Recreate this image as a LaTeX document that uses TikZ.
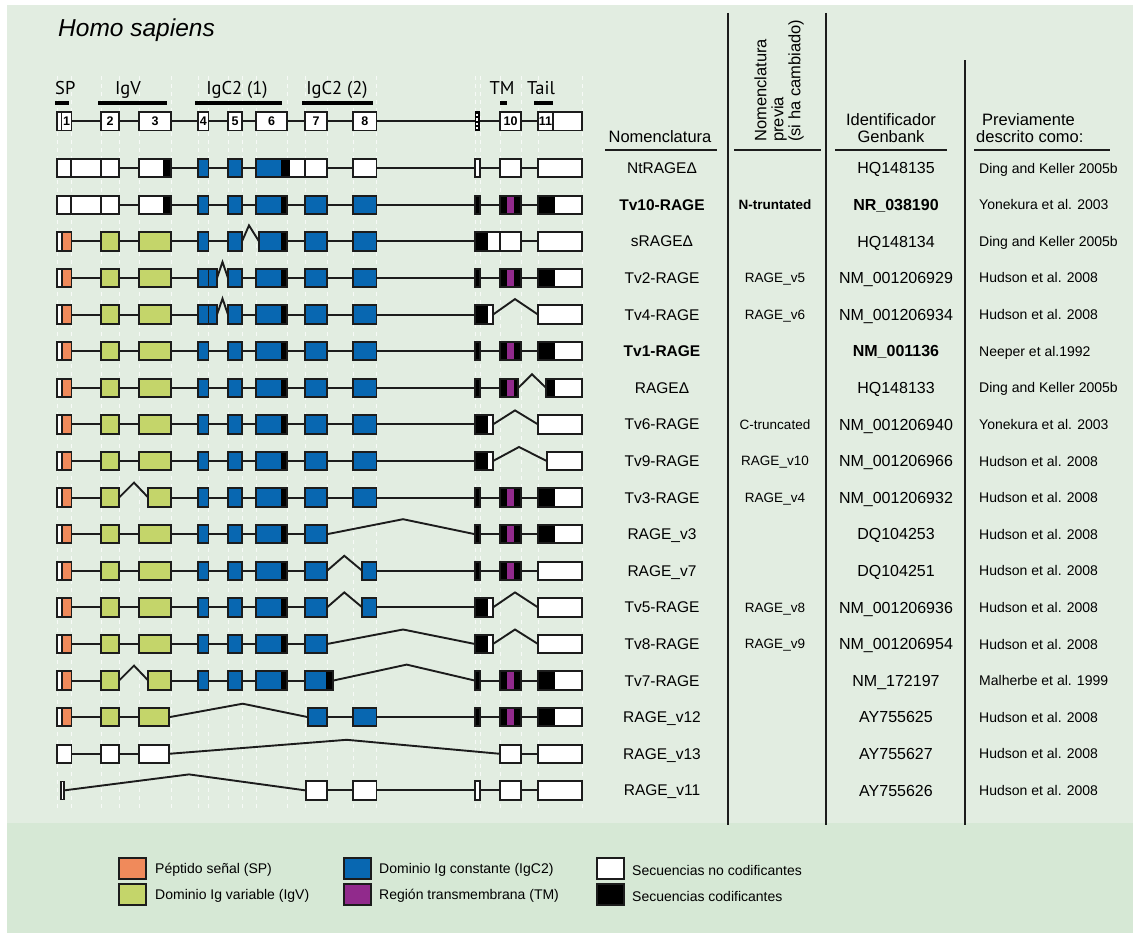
\documentclass[tikz,border=0pt]{standalone}
\usepackage{fontspec}
\setmainfont{Liberation Sans}
\newfontfamily\labfont{PT Sans}
\definecolor{bgA}{HTML}{E2EDE1}
\definecolor{bgB}{HTML}{D6E8D5}
\definecolor{spc}{HTML}{F08A5B}
\definecolor{igv}{HTML}{C4D56A}
\definecolor{igc}{HTML}{0867B1}
\definecolor{tmc}{HTML}{912A8C}
\definecolor{ink}{HTML}{1C1C1C}
\tikzset{
  exonline/.style={draw=ink, line width=1.9pt},
  divline/.style={draw=ink, line width=1.2pt},
  intron/.style={draw=ink, line width=1.9pt, line join=miter},
  guide/.style={draw=white, line width=0.9pt, dash pattern=on 4pt off 4pt, opacity=0.75},
  rulev/.style={draw=ink, line width=2pt},
  ruleh/.style={draw=ink, line width=2pt},
  domainbar/.style={fill=black},
  domainlab/.style={font=\labfont\fontsize{18.5}{22}\selectfont, inner sep=0pt, anchor=base},
  exnum/.style={font=\bfseries\fontsize{12.5}{14}\selectfont, inner sep=0pt, text height=9pt, text depth=0pt, anchor=center},
  nmtxt/.style={font=\fontsize{15.5}{18}\selectfont, inner sep=0pt, text height=11pt, text depth=0pt, anchor=center},
  pvtxt/.style={font=\fontsize{13.5}{16}\selectfont, inner sep=0pt, text height=9.6pt, text depth=0pt, anchor=center},
  gbtxt/.style={font=\fontsize{16}{18}\selectfont, inner sep=0pt, text height=11.4pt, text depth=0pt, anchor=center},
  rftxt/.style={font=\fontsize{14}{16}\selectfont, inner sep=0pt, text height=10pt, text depth=0pt, anchor=west},
  hdrtxt/.style={font=\fontsize{16.5}{19}\selectfont, inner sep=0pt, anchor=base},
  rottxt/.style={font=\fontsize{16.5}{19}\selectfont, inner sep=0pt, text height=11.8pt, text depth=0pt, rotate=90, anchor=west},
  lgbox/.style={draw=ink, line width=1.5pt},
  lgtxt/.style={font=\fontsize{14}{16}\selectfont, inner sep=0pt, text height=10pt, text depth=0pt, anchor=west},
}
% row helpers (use \ry = row centre)
\newcommand\sg[3]{\fill[#3] (#1,\ry-9.2) rectangle (#2,\ry+9.2);}
\newcommand\fr[2]{\draw[exonline] (#1,\ry-9.2) rectangle (#2,\ry+9.2);}
\newcommand\dvd[1]{\draw[divline] (#1,\ry-9.2) -- (#1,\ry+9.2);}
\newcommand\bx[3]{\sg{#1}{#2}{#3}\fr{#1}{#2}}
\newcommand\intr[2]{\draw[intron] (#1,\ry) -- (#2,\ry);}
\newcommand\spl[4]{\draw[intron] (#1,\ry) -- (#2,\ry-#4) -- (#3,\ry);}
\newcommand\Eone{\sg{57}{62}{white}\sg{62}{71.5}{spc}\fr{57}{71.5}\dvd{62}}
\newcommand\Etwo{\bx{101}{119}{igv}}
\newcommand\Ethree{\bx{139}{171}{igv}}
\newcommand\Efour{\bx{198}{208.5}{igc}}
\newcommand\Efive{\bx{228}{242}{igc}}
\newcommand\Esix{\sg{256}{281}{igc}\sg{281}{287}{black}\fr{256}{287}}
\newcommand\Eseven{\bx{305}{327}{igc}}
\newcommand\Eeight{\bx{353}{376.5}{igc}}
\newcommand\Enine{\bx{475}{480}{black}}
\newcommand\Eten{\sg{500}{521}{black}\sg{507}{513.5}{tmc}\fr{500}{521}}
\newcommand\Eeleven{\sg{538}{555}{black}\sg{555}{582}{white}\fr{538}{582}}
\newcommand\Eelw{\bx{538}{582}{white}}
\newcommand\Eninex{\sg{475}{488}{black}\sg{488}{493}{white}\fr{475}{493}}
\newcommand\Eleft{\Eone\Etwo\Ethree\Efour\Efive\Esix\Eseven}
\newcommand\rowtext[6]{%
  \node[nmtxt] (nm#1) at (662,#2) {#3};
  \node[pvtxt] (pv#1) at (775,#2) {#4};
  \node[gbtxt] (gb#1) at (896,#2) {#5};
  \node[rftxt] (rf#1) at (979,#2) {#6};}
\begin{document}
\begin{tikzpicture}[x=1pt,y=-1pt]
\useasboundingbox (0,0) rectangle (1133,933);
\fill[white] (0,0) rectangle (1133,933);
\fill[bgA] (7,5) rectangle (1133,823);
\fill[bgB] (7,823) rectangle (1133,933);

% guide lines
\foreach \gx in {57,71.5,101,119,139,171,198,208.5,228,242,256,287,305,327,353,376.5,475,480,500,521,538,582}
  \draw[guide] (\gx,76) -- (\gx,808);

% title
\node[font=\itshape\fontsize{24.5}{29}\selectfont, inner sep=0pt, anchor=base west] (title) at (58,37) {Homo sapiens};

% domain labels and bars
\node[domainlab, anchor=base west] (lsp) at (55,95) {SP};
\node[domainlab] (ligv) at (128,95) {IgV};
\node[domainlab] (lc1) at (237,95) {IgC2 (1)};
\node[domainlab] (lc2) at (337,95) {IgC2 (2)};
\node[domainlab] (ltm) at (502,95) {TM};
\node[domainlab] (ltl) at (541,95) {Tail};
\fill[domainbar] (55,101.5) rectangle (69,105.5);
\fill[domainbar] (98,101.5) rectangle (167,105.5);
\fill[domainbar] (195,101.5) rectangle (282,105.5);
\fill[domainbar] (302,101.5) rectangle (373,105.5);
\fill[domainbar] (500,101.5) rectangle (507,105.5);
\fill[domainbar] (534,101.5) rectangle (553,105.5);

% header gene structure
\def\ry{121.3}
\intr{71.5}{538}
\bx{57}{71.5}{white}\dvd{61.5}
\bx{101}{119}{white}\bx{139}{171}{white}\bx{198}{208.5}{white}\bx{228}{242}{white}
\bx{256}{287}{white}\bx{305}{327}{white}\bx{353}{376.5}{white}
\fill[black] (474.5,\ry-10) rectangle (479.5,\ry+10);
\draw[white, line width=1.6pt, dash pattern=on 2.5pt off 2pt] (477,\ry-7.5) -- (477,\ry+8);
\bx{500}{521}{white}\bx{538}{582}{white}\dvd{553}
\node[exnum] (x1) at (66.5,\ry) {1};
\node[exnum] (x2) at (110,\ry) {2};
\node[exnum] (x3) at (155,\ry) {3};
\node[exnum] (x4) at (203.3,\ry) {4};
\node[exnum] (x5) at (235,\ry) {5};
\node[exnum] (x6) at (271.5,\ry) {6};
\node[exnum] (x7) at (316,\ry) {7};
\node[exnum] (x8) at (364.8,\ry) {8};
\node[exnum] (x10) at (510.5,\ry) {10};
\node[exnum] (x11) at (545.5,\ry) {11};

% row 1 NtRAGEDelta
\def\ry{168.2}
\intr{119}{139}\intr{171}{256}\intr{327}{538}
\sg{57}{119}{white}\fr{57}{119}\dvd{71}\dvd{101}
\sg{139}{163}{white}\sg{163}{171}{black}\fr{139}{171}
\Efour\Efive
\sg{256}{281}{igc}\sg{281}{290}{black}\sg{290}{327}{white}\fr{256}{327}\dvd{305}
\bx{353}{376.5}{white}\bx{475}{480}{white}\bx{500}{521}{white}\Eelw

% row 2 Tv10-RAGE
\def\ry{204.8}
\intr{119}{139}\intr{171}{538}
\sg{57}{119}{white}\fr{57}{119}\dvd{71}\dvd{101}
\sg{139}{163}{white}\sg{163}{171}{black}\fr{139}{171}
\Efour\Efive\Esix\Eseven\Eeight\Enine\Eten\Eeleven

% row 3 sRAGEDelta
\def\ry{241.4}
\intr{71.5}{242}\spl{242}{249}{259}{16}\intr{287}{538}
\Eone\Etwo\Ethree\Efour\Efive
\sg{259}{281}{igc}\sg{281}{287}{black}\fr{259}{287}
\Eseven\Eeight
\sg{475}{488}{black}\sg{488}{521}{white}\fr{475}{521}\dvd{500}
\Eelw

% row 4 Tv2-RAGE
\def\ry{278.0}
\intr{71.5}{198}\spl{217}{222.5}{228}{16}\intr{242}{538}
\Eone\Etwo\Ethree
\bx{198}{217}{igc}\dvd{208.5}
\Efive\Esix\Eseven\Eeight\Enine\Eten\Eeleven

% row 5 Tv4-RAGE
\def\ry{314.6}
\intr{71.5}{198}\spl{217}{222.5}{228}{16}\intr{242}{475}\spl{493}{515}{538}{15.5}
\Eone\Etwo\Ethree
\bx{198}{217}{igc}\dvd{208.5}
\Efive\Esix\Eseven\Eeight\Eninex\Eelw

% row 6 Tv1-RAGE
\def\ry{351.2}
\intr{71.5}{538}
\Eleft\Eeight\Enine\Eten\Eeleven

% row 7 RAGEDelta
\def\ry{387.8}
\intr{71.5}{500}\spl{518.3}{532}{546}{13.5}
\Eleft\Eeight\Enine
\sg{500}{518.3}{black}\sg{507}{513.5}{tmc}\fr{500}{518.3}
\sg{546}{555}{black}\sg{555}{582}{white}\fr{546}{582}

% row 8 Tv6-RAGE
\def\ry{424.4}
\intr{71.5}{475}\spl{493}{515}{538}{14}
\Eleft\Eeight\Eninex\Eelw

% row 9 Tv9-RAGE
\def\ry{461.0}
\intr{71.5}{475}\spl{493}{519}{546.7}{14}
\Eleft\Eeight\Eninex\bx{546.7}{582}{white}

% row 10 Tv3-RAGE
\def\ry{497.6}
\intr{71.5}{101}\spl{119}{134}{148.3}{15}\intr{171}{538}
\Eone\Etwo\bx{148.3}{171}{igv}\Efour\Efive\Esix\Eseven\Eeight\Enine\Eten\Eeleven

% row 11 RAGE_v3
\def\ry{534.2}
\intr{71.5}{305}\spl{327}{403}{475}{15}\intr{480}{538}
\Eleft\Enine\Eten\Eeleven

% row 12 RAGE_v7
\def\ry{570.8}
\intr{71.5}{305}\spl{327}{344.3}{362.3}{15}\intr{376.5}{538}
\Eleft\bx{362.3}{376.5}{igc}\Enine\Eten\Eelw

% row 13 Tv5-RAGE
\def\ry{607.4}
\intr{71.5}{305}\spl{327}{344.3}{362.3}{15}\intr{376.5}{475}\spl{493}{515}{538}{15}
\Eleft\bx{362.3}{376.5}{igc}\Eninex\Eelw

% row 14 Tv8-RAGE
\def\ry{644.0}
\intr{71.5}{305}\spl{327}{403}{475}{14.5}\spl{493}{515}{538}{14.5}
\Eleft\Eninex\Eelw

% row 15 Tv7-RAGE
\def\ry{680.6}
\intr{71.5}{101}\spl{119}{134}{148.3}{15}\intr{171}{305}\spl{333}{406.7}{475}{16}\intr{480}{538}
\Eone\Etwo\bx{148.3}{171}{igv}\Efour\Efive\Esix
\sg{305}{326}{igc}\sg{326}{333}{black}\fr{305}{333}
\Enine\Eten\Eeleven

% row 16 RAGE_v12
\def\ry{717.2}
\intr{71.5}{139}\spl{169}{242.7}{308.3}{13.5}\intr{327}{538}
\Eone\Etwo\bx{139}{169}{igv}\bx{308.3}{327}{igc}\Eeight\Enine\Eten\Eeleven

% row 17 RAGE_v13
\def\ry{753.8}
\intr{71.5}{139}\spl{169}{346.7}{500}{14}\intr{521}{538}
\bx{57}{71.5}{white}\bx{101}{119}{white}\bx{139}{169}{white}\bx{500}{521}{white}\Eelw

% row 18 RAGE_v11
\def\ry{790.4}
\spl{64}{189}{305.7}{16}\intr{327}{538}
\fill[white] (61,\ry-9.2) rectangle (64,\ry+9.2);
\draw[ink, line width=1.2pt] (61,\ry-9.2) rectangle (64,\ry+9.2);
\bx{305.7}{327}{white}\bx{353}{376.5}{white}\bx{475}{480}{white}\bx{500}{521}{white}\Eelw

% table rules
\draw[rulev] (727.5,13) -- (727.5,825);
\draw[rulev] (826,13) -- (826,825);
\draw[rulev] (965,60.5) -- (965,825);
\draw[ruleh] (605,150.5) -- (717,150.5);
\draw[ruleh] (734,150.5) -- (821,150.5);
\draw[ruleh] (835,150.5) -- (947,150.5);
\draw[ruleh] (974,150.5) -- (1110,150.5);

% table headers
\node[hdrtxt] (h1) at (660,143) {Nomenclatura};
\node[rottxt] (h2a) at (760.5,142) {Nomenclatura};
\node[rottxt] (h2b) at (777.5,142) {previa};
\node[rottxt] (h2c) at (794.5,142) {(si ha cambiado)};
\node[hdrtxt] (h3a) at (891,125.5) {Identificador};
\node[hdrtxt] (h3b) at (891,143) {Genbank};
\node[hdrtxt, anchor=base west] (h4a) at (982,125.5) {Previamente};
\node[hdrtxt, anchor=base west] (h4b) at (976,143) {descrito como:};

% table rows
\rowtext{1}{168.2}{NtRAGEΔ}{}{HQ148135}{Ding and Keller 2005b}
\rowtext{2}{204.8}{\textbf{Tv10-RAGE}}{\textbf{N-truntated}}{\textbf{NR\_038190}}{Yonekura et al. 2003}
\rowtext{3}{241.4}{sRAGEΔ}{}{HQ148134}{Ding and Keller 2005b}
\rowtext{4}{278.0}{Tv2-RAGE}{RAGE\_v5}{NM\_001206929}{Hudson et al. 2008}
\rowtext{5}{314.6}{Tv4-RAGE}{RAGE\_v6}{NM\_001206934}{Hudson et al. 2008}
\rowtext{6}{351.2}{\textbf{Tv1-RAGE}}{}{\textbf{NM\_001136}}{Neeper et al.1992}
\rowtext{7}{387.8}{RAGEΔ}{}{HQ148133}{Ding and Keller 2005b}
\rowtext{8}{424.4}{Tv6-RAGE}{C-truncated}{NM\_001206940}{Yonekura et al. 2003}
\rowtext{9}{461.0}{Tv9-RAGE}{RAGE\_v10}{NM\_001206966}{Hudson et al. 2008}
\rowtext{10}{497.6}{Tv3-RAGE}{RAGE\_v4}{NM\_001206932}{Hudson et al. 2008}
\rowtext{11}{534.2}{RAGE\_v3}{}{DQ104253}{Hudson et al. 2008}
\rowtext{12}{570.8}{RAGE\_v7}{}{DQ104251}{Hudson et al. 2008}
\rowtext{13}{607.4}{Tv5-RAGE}{RAGE\_v8}{NM\_001206936}{Hudson et al. 2008}
\rowtext{14}{644.0}{Tv8-RAGE}{RAGE\_v9}{NM\_001206954}{Hudson et al. 2008}
\rowtext{15}{680.6}{Tv7-RAGE}{}{NM\_172197}{Malherbe et al. 1999}
\rowtext{16}{717.2}{RAGE\_v12}{}{AY755625}{Hudson et al. 2008}
\rowtext{17}{753.8}{RAGE\_v13}{}{AY755627}{Hudson et al. 2008}
\rowtext{18}{790.4}{RAGE\_v11}{}{AY755626}{Hudson et al. 2008}

% legend
\filldraw[lgbox, fill=spc] (119,858) rectangle (146,879);
\filldraw[lgbox, fill=igv] (119,884) rectangle (146,905);
\filldraw[lgbox, fill=igc] (344,858) rectangle (371,879);
\filldraw[lgbox, fill=tmc] (344,884) rectangle (371,905);
\filldraw[lgbox, fill=white] (597,858) rectangle (624,879);
\filldraw[lgbox, fill=black] (597,884) rectangle (624,905);
\node[lgtxt] (lg1) at (155,868.5) {Péptido señal (SP)};
\node[lgtxt] (lg2) at (155,894.5) {Dominio Ig variable (IgV)};
\node[lgtxt] (lg3) at (379,868.5) {Dominio Ig constante (IgC2)};
\node[lgtxt] (lg4) at (379,894.5) {Región transmembrana (TM)};
\node[lgtxt] (lg5) at (632,870.5) {Secuencias no codificantes};
\node[lgtxt] (lg6) at (632,896.5) {Secuencias codificantes};
\end{tikzpicture}
\end{document}
